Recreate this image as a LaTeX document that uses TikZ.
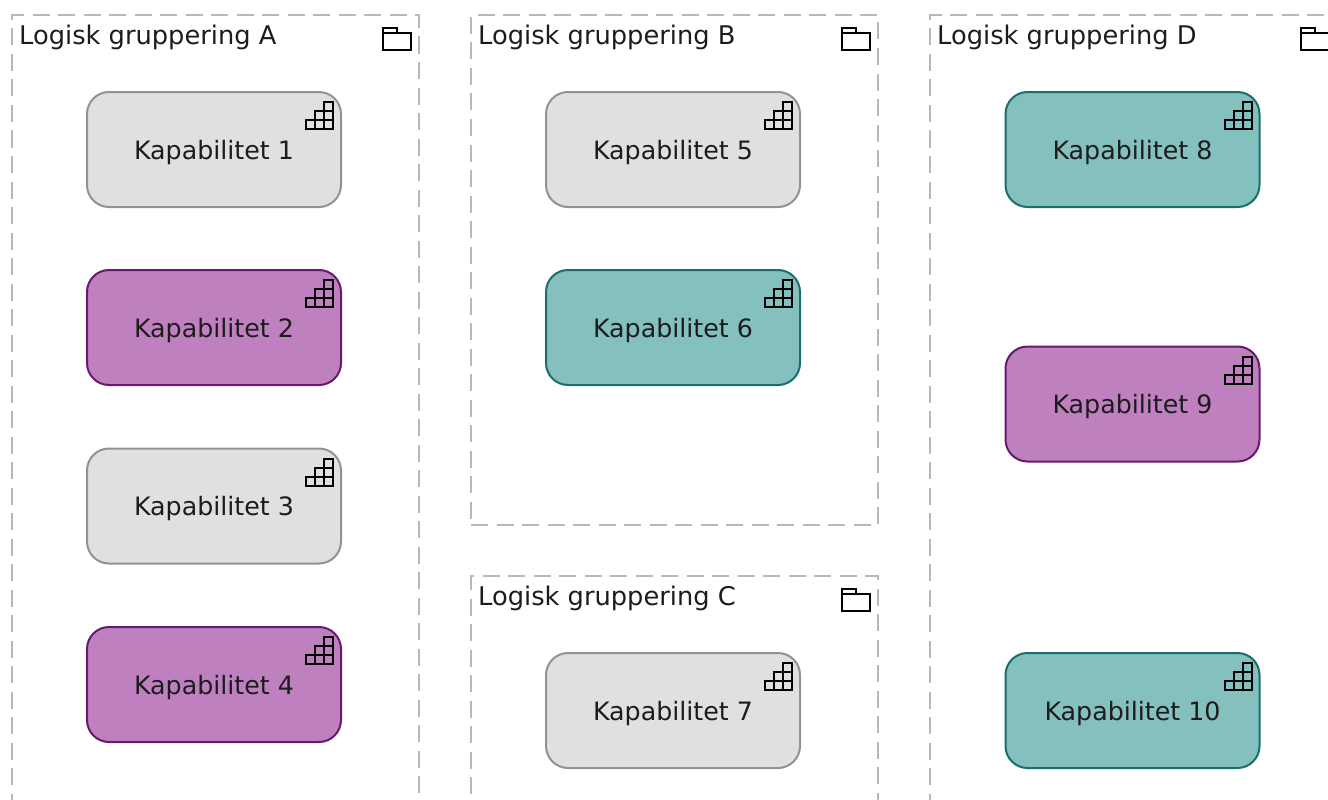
\documentclass[tikz,border=0pt]{standalone}
\usepackage{fontspec}
\setmainfont{DejaVu Sans}
\definecolor{greyfill}{HTML}{E0E0E0}
\definecolor{greyline}{HTML}{929292}
\definecolor{purplefill}{HTML}{BF80BF}
\definecolor{purpleline}{HTML}{661A6E}
\definecolor{tealfill}{HTML}{83C0BE}
\definecolor{tealline}{HTML}{1A6E6C}
\definecolor{groupline}{HTML}{B8B8B8}
\definecolor{labeltext}{HTML}{1C1C1C}
\tikzset{
    capbox/.style={rectangle, rounded corners=22pt, outer sep=0pt, inner sep=0pt, line width=2pt, minimum width=254pt, minimum height=115pt, text depth=0pt, text=labeltext, font=\fontsize{25.3}{30}\selectfont},
    capgrey/.style={capbox, draw=greyline, fill=greyfill},
    cappurple/.style={capbox, draw=purpleline, fill=purplefill},
    capteal/.style={capbox, draw=tealline, fill=tealfill},
    groupbox/.style={rectangle, draw=groupline, line width=2pt, dash pattern=on 17pt off 8.5pt, outer sep=0pt, inner sep=0pt, minimum width=407pt, anchor=north west},
    grouplabel/.style={anchor=base west, inner sep=0pt, text=labeltext, font=\fontsize{25.7}{30}\selectfont},
    staircase/.pic={
        \draw[black, line width=2pt] (-35, 37) rectangle (-8, 28);
        \draw[black, line width=2pt] (-26, 37) -- (-26, 19) -- (-8, 19) -- (-8, 28);
        \draw[black, line width=2pt] (-17, 37) -- (-17, 10) -- (-8, 10) -- (-8, 19);
    },
    folder/.pic={
        \draw[black, line width=2pt] (-36, 18) rectangle (-8, 35);
        \draw[black, line width=2pt] (-36, 18) -- (-36, 13) -- (-22, 13) -- (-22, 18);
    }
}
\begin{document}
\begin{tikzpicture}[x=1pt, y=-1pt]
    \useasboundingbox (0, 0) rectangle (1328, 800);
    \clip (0, 0) rectangle (1328, 800);

    \node[groupbox, minimum height=830pt] (grpA) at (12, 15) {};
    \node[groupbox, minimum height=510pt] (grpB) at (471, 15) {};
    \node[groupbox, minimum height=260pt] (grpC) at (471, 576) {};
    \node[groupbox, minimum height=830pt] (grpD) at (929.5, 15) {};

    \node[grouplabel] (lblA) at (19, 44.5) {Logisk gruppering A};
    \node[grouplabel] (lblB) at (478, 44.5) {Logisk gruppering B};
    \node[grouplabel] (lblC) at (478, 605.5) {Logisk gruppering C};
    \node[grouplabel] (lblD) at (937, 44.5) {Logisk gruppering D};

    \pic at (grpA.north east) {folder};
    \pic at (grpB.north east) {folder};
    \pic at (grpC.north east) {folder};
    \pic at (grpD.north east) {folder};

    \node[capgrey] (k1) at (214, 149.5) {Kapabilitet 1};
    \node[cappurple] (k2) at (214, 327.5) {Kapabilitet 2};
    \node[capgrey] (k3) at (214, 506) {Kapabilitet 3};
    \node[cappurple] (k4) at (214, 684.5) {Kapabilitet 4};

    \node[capgrey] (k5) at (673, 149.5) {Kapabilitet 5};
    \node[capteal] (k6) at (673, 327.5) {Kapabilitet 6};

    \node[capgrey] (k7) at (673, 710.5) {Kapabilitet 7};

    \node[capteal] (k8) at (1132.5, 149.5) {Kapabilitet 8};
    \node[cappurple] (k9) at (1132.5, 404) {Kapabilitet 9};
    \node[capteal] (k10) at (1132.5, 710.5) {Kapabilitet 10};

    \pic at (k1.north east) {staircase};
    \pic at (k2.north east) {staircase};
    \pic at (k3.north east) {staircase};
    \pic at (k4.north east) {staircase};
    \pic at (k5.north east) {staircase};
    \pic at (k6.north east) {staircase};
    \pic at (k7.north east) {staircase};
    \pic at (k8.north east) {staircase};
    \pic at (k9.north east) {staircase};
    \pic at (k10.north east) {staircase};
\end{tikzpicture}
\end{document}
